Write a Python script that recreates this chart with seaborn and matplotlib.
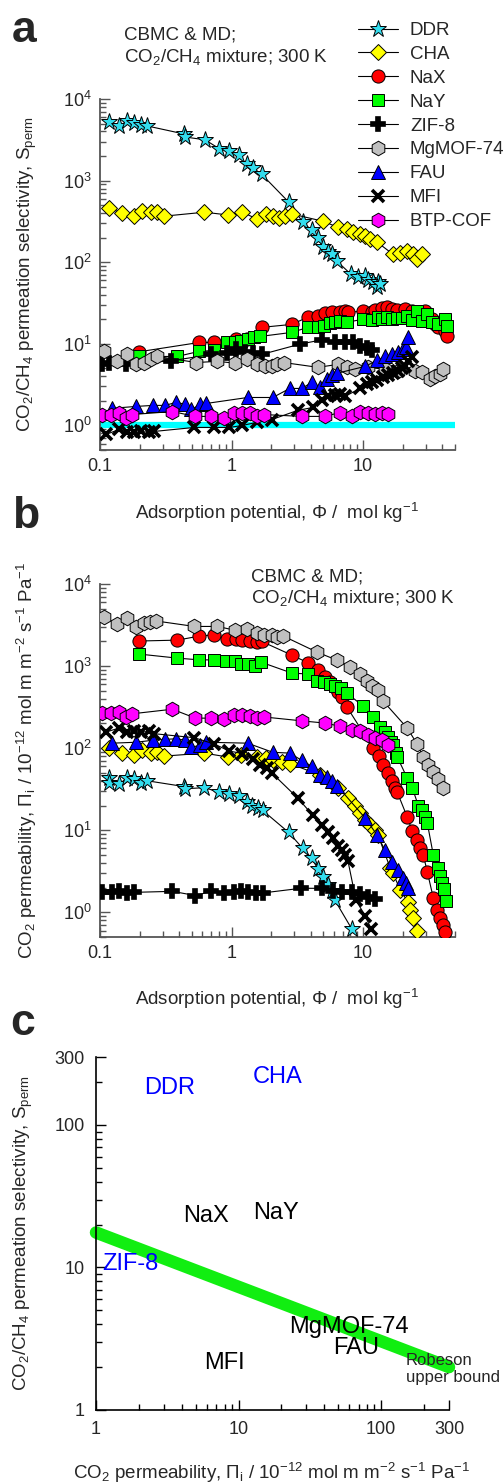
import numpy as np
import matplotlib
matplotlib.use("Agg")
import matplotlib.pyplot as plt
import seaborn as sns
from matplotlib.lines import Line2D
from matplotlib.ticker import LogLocator, FixedLocator, FuncFormatter, NullFormatter, LogFormatterSciNotation

# ---------------- data: panel a (selectivity vs adsorption potential) ----------------
DDR_a_x = [0.117, 0.140, 0.161, 0.182, 0.206, 0.229, 0.438, 0.445, 0.63, 0.81, 0.965, 1.13, 1.30, 1.45, 1.69,
           2.72, 3.48, 4.08, 4.54, 4.95, 5.40, 5.80, 6.33, 8.10, 9.16, 10.4, 10.9, 11.9, 13.0, 12.8, 13.5]
DDR_a_y = [5240, 4670, 5370, 5070, 4800, 4670, 3720, 3420, 3160, 2450, 2300, 2040, 1590, 1420, 1200,
           546, 310, 246, 196, 153, 132, 125, 103, 71, 65, 67, 61, 57, 57, 49, 54]
CHA_a_x = [0.117, 0.147, 0.182, 0.209, 0.245, 0.272, 0.308, 0.622, 0.932, 1.21, 1.55, 1.82, 2.06, 2.29, 2.54,
           2.87, 4.95, 6.44, 7.55, 8.39, 9.48, 10.4, 11.3, 12.8, 16.9, 19.2, 21.7, 24.1, 25.8, 28.2]
CHA_a_y = [459, 400, 367, 430, 410, 415, 367, 410, 380, 410, 340, 390, 370, 345, 370,
           390, 318, 268, 254, 233, 220, 210, 192, 176, 125, 128, 137, 125, 110, 125]
NaX_a_x = [0.199, 0.570, 0.741, 1.09, 1.30, 1.69, 2.87, 3.80, 4.54, 5.13, 5.80, 6.67, 7.29, 7.68, 10.0, 11.7,
           12.35, 13.97, 15.25, 16.65, 18.2, 20.9, 23.7, 29.7, 33.6, 35.5, 37.4, 42.3, 43.8]
NaX_a_y = [8.0, 10.4, 10.4, 11.3, 11.5, 15.9, 17.3, 21.2, 21.8, 23.7, 24.4, 24.4, 25.1, 24.4, 25.1, 24.4,
           25.8, 27.2, 28.0, 26.5, 25.8, 26.5, 25.1, 25.1, 20.0, 17.3, 15.9, 14.3, 12.4]
NaY_a_x = [0.199, 0.387, 0.570, 0.741, 0.916, 1.054, 1.19, 1.325, 1.47, 1.64, 2.87, 3.80, 4.54, 5.04, 5.60,
           6.11, 6.67, 7.55, 10.0, 11.7, 13.0, 13.97, 15.25, 16.65, 18.2, 19.85, 21.7, 23.7, 25.8, 28.2,
           30.8, 33.6, 37.4, 42.3, 43.8]
NaY_a_y = [7.0, 7.0, 8.1, 8.3, 10.4, 10.4, 10.7, 11.3, 12.0, 12.3, 13.8, 15.9, 15.9, 16.4, 17.9,
           18.4, 18.9, 18.4, 20.0, 19.4, 21.2, 20.0, 21.2, 20.0, 20.6, 20.6, 21.8, 19.4, 25.1, 18.9,
           23.0, 18.4, 17.3, 20.0, 16.4]
ZIF_a_x = [0.104, 0.117, 0.158, 0.348, 0.703, 0.916, 1.09, 1.256, 1.446, 1.69, 3.30, 4.87, 6.11, 7.29, 8.39,
           9.48, 10.7, 11.7]
ZIF_a_y = [5.6, 5.9, 5.6, 6.2, 7.4, 7.7, 8.6, 8.0, 7.7, 7.4, 9.9, 11.2, 10.4, 10.4, 10.4, 9.5, 9.0, 8.5]
MOF_a_x = [0.107, 0.135, 0.161, 0.188, 0.217, 0.245, 0.272, 0.541, 0.782, 1.054, 1.30, 1.55, 1.79, 2.02, 2.21,
           2.49, 4.54, 6.44, 7.55, 8.69, 10.9, 14.7, 18.5, 24.95, 28.2, 32.5, 35.5, 38.7, 40.8]
MOF_a_y = [8.1, 6.1, 7.6, 5.6, 5.9, 6.45, 7.0, 5.9, 6.1, 5.8, 6.45, 5.6, 5.3, 5.3, 5.6,
           5.9, 5.15, 5.6, 5.15, 4.87, 5.15, 4.87, 4.6, 4.6, 4.47, 3.67, 4.0, 4.22, 4.87]
FAU_a_x = [0.124, 0.188, 0.254, 0.313, 0.380, 0.446, 0.495, 0.580, 0.644, 1.325, 2.06, 2.77, 3.42, 4.08, 4.70,
           5.31, 5.80, 6.33, 10.4, 12.8, 14.7, 16.65, 18.5, 20.2, 21.3, 22.1]
FAU_a_y = [1.62, 1.71, 1.76, 1.76, 1.92, 1.81, 1.57, 1.81, 1.86, 2.2, 2.2, 2.84, 2.84, 3.37, 2.92,
           3.67, 4.1, 4.35, 5.3, 6.27, 7.0, 7.4, 7.9, 8.6, 9.05, 12.0]
MFI_a_x = [0.111, 0.140, 0.161, 0.182, 0.206, 0.237, 0.258, 0.522, 0.741, 0.965, 1.21, 1.55, 2.02, 3.19, 4.15,
           4.87, 5.40, 6.11, 6.67, 7.29, 9.48, 10.7, 11.7, 12.8, 14.2, 15.5, 16.9, 18.5, 19.85, 20.9, 22.1, 23.7]
MFI_a_y = [0.775, 0.893, 0.82, 0.82, 0.844, 0.82, 0.844, 0.945, 0.945, 0.945, 1.0, 1.09, 1.18, 1.53, 1.66,
           2.03, 2.27, 2.33, 2.4, 2.27, 2.84, 3.18, 3.37, 3.57, 3.88, 4.1, 4.35, 4.6, 5.0, 5.3, 6.1, 6.8]
BTP_a_x = [0.104, 0.121, 0.140, 0.158, 0.175, 0.355, 0.531, 0.703, 0.884, 1.036, 1.21, 1.37, 1.55, 1.755,
           3.42, 5.13, 6.67, 8.24, 9.48, 10.9, 12.35, 13.97, 15.5]
BTP_a_y = [1.33, 1.36, 1.44, 1.25, 1.36, 1.48, 1.29, 1.29, 1.25, 1.44, 1.44, 1.44, 1.29, 1.36,
           1.29, 1.29, 1.44, 1.29, 1.48, 1.44, 1.40, 1.44, 1.40]
UNITY_x = [0.1, 50]
UNITY_y = [1.0, 1.0]

# ---------------- data: panel b (CO2 permeability vs adsorption potential) ----------------
DDR_b_x = [0.117, 0.117, 0.140, 0.161, 0.182, 0.206, 0.229, 0.438, 0.445, 0.622, 0.81, 0.965, 1.13, 1.30,
           1.42, 1.58, 1.72, 2.72, 3.48, 4.08, 4.54, 4.95, 5.40, 5.80, 6.11, 8.24]
DDR_b_y = [43, 38, 37, 43, 42, 38, 40, 34, 32, 33, 29, 28, 26, 22,
           20, 18.5, 17.5, 9.4, 6.0, 4.55, 3.35, 2.67, 2.13, 1.8, 1.4, 0.62]
CHA_b_x = [0.117, 0.147, 0.182, 0.209, 0.245, 0.272, 0.308, 0.622, 0.932, 1.19, 1.55, 1.82, 2.06, 2.41, 2.77,
           4.70, 6.44, 7.68, 8.69, 9.48, 10.4, 11.3, 12.35, 13.0, 16.1, 16.9, 19.2, 22.1, 22.9, 24.1, 25.8]
CHA_b_y = [100, 88, 82, 95, 87, 89, 80, 87, 78, 82, 78, 75, 72, 67, 65,
           47, 33, 24.6, 20, 16, 13.3, 11.5, 10, 8.7, 3.45, 3.0, 1.85, 1.32, 1.06, 0.85, 0.6]
NaX_b_x = [0.199, 0.387, 0.570, 0.741, 0.916, 1.09, 1.21, 1.37, 1.55, 1.69, 2.87, 3.80, 4.54, 5.13, 5.60,
           6.11, 6.44, 6.91, 7.55, 11.9, 13.3, 14.2, 15.5, 16.65, 17.55, 18.2, 21.7, 23.7, 25.8, 27.2,
           28.7, 30.8, 34.2, 36.7, 38.7, 40.8, 42.3]
NaX_b_y = [2020, 2070, 2320, 2400, 2150, 2150, 2100, 2000, 1950, 2000, 1360, 1100, 890, 730, 640,
           560, 480, 420, 316, 100, 80, 63, 50, 40, 33, 29, 14.4, 9.7, 7.5, 6.0,
           5.0, 3.1, 1.5, 1.06, 0.85, 0.7, 0.57]
NaY_b_x = [0.199, 0.387, 0.570, 0.741, 0.900, 1.054, 1.19, 1.325, 1.50, 1.665, 2.87, 3.80, 4.46, 5.04, 5.60,
           6.11, 6.79, 7.55, 10.0, 11.9, 13.5, 14.7, 15.5, 16.4, 16.9, 17.9, 18.2, 21.7, 23.7, 26.3,
           28.2, 29.7, 30.8, 34.2, 37.4, 38.7, 40.1, 41.5, 43.0]
NaY_b_y = [1400, 1250, 1190, 1190, 1160, 1140, 1070, 1070, 1000, 1120, 822, 800, 650, 640, 600,
           570, 540, 468, 325, 238, 180, 157, 136, 118, 108, 87, 78, 43, 32.6, 20,
           17.5, 14.4, 12.2, 5.0, 3.5, 2.8, 2.26, 1.9, 1.36]
ZIF_b_x = [0.104, 0.124, 0.140, 0.161, 0.182, 0.355, 0.531, 0.703, 0.869, 1.036, 1.19, 1.325, 1.525, 1.724,
           3.36, 4.87, 5.90, 6.91, 8.24, 9.48, 10.9, 12.35]
ZIF_b_y = [1.75, 1.78, 1.8, 1.72, 1.75, 1.8, 1.6, 1.8, 1.7, 1.75, 1.8, 1.75, 1.7, 1.72,
           1.96, 1.96, 1.8, 1.75, 1.75, 1.65, 1.55, 1.44]
MOF_b_x = [0.107, 0.135, 0.161, 0.188, 0.217, 0.241, 0.268, 0.522, 0.782, 1.054, 1.30, 1.55, 1.755, 2.02, 2.21,
           2.45, 4.46, 6.33, 7.96, 9.48, 10.7, 11.7, 13.0, 14.2, 21.7, 25.8, 28.7, 31.35, 34.2, 37.4, 40.8]
MOF_b_y = [3970, 3250, 3860, 2960, 3360, 3450, 3540, 3040, 3040, 2740, 2820, 2540, 2410, 2410, 2280,
           2340, 1480, 1180, 980, 800, 650, 570, 510, 375, 175, 112, 78, 62, 51, 42, 32.6]
FAU_b_x = FAU_a_x
FAU_b_y = [115, 118, 125, 128, 130, 125, 103, 108, 118, 115, 89, 87, 71, 60, 47,
           44, 40, 35, 14, 8.7, 5.7, 4.07, 3.25, 2.6, 2.26, 2.0]
MFI_b_x = [0.111, 0.140, 0.161, 0.182, 0.206, 0.237, 0.258, 0.522, 0.741, 0.965, 1.21, 1.446, 1.636, 1.85,
           2.02, 3.19, 4.15, 4.87, 5.40, 5.90, 6.44, 6.91, 7.29, 7.68, 8.84, 10.4, 11.5]
MFI_b_y = [157, 176, 157, 160, 157, 160, 150, 134, 112, 92, 86, 73, 63, 58,
           50, 24.6, 15.2, 11.5, 9.4, 8.0, 6.5, 5.8, 5.0, 4.2, 1.4, 0.9, 0.63]
BTP_b_x = BTP_a_x
BTP_b_y = [267, 267, 275, 240, 262, 298, 232, 232, 225, 250, 250, 245, 232, 240,
           215, 202, 185, 166, 161, 144, 132, 125, 110]

# ---------------- data: panel c ----------------
C_LABELS = ["DDR", "CHA", "NaX", "NaY", "ZIF-8", "MgMOF-74", "FAU", "MFI"]
C_PERM = [3.3, 18.7, 5.9, 18.4, 1.73, 60, 67, 8.0]
C_SEL = [182, 217, 23, 24, 10.5, 3.85, 2.73, 2.14]
C_COLORS = ["#0000ff", "#0000ff", "black", "black", "#0000ff", "black", "black", "black"]
ROBESON_x = [1, 300]
ROBESON_y = [17.6, 2.0]

NAMES = ["DDR", "CHA", "NaX", "NaY", "ZIF-8", "MgMOF-74", "FAU", "MFI", "BTP-COF"]
PANEL_A = [(DDR_a_x, DDR_a_y), (CHA_a_x, CHA_a_y), (NaX_a_x, NaX_a_y), (NaY_a_x, NaY_a_y),
           (ZIF_a_x, ZIF_a_y), (MOF_a_x, MOF_a_y), (FAU_a_x, FAU_a_y), (MFI_a_x, MFI_a_y), (BTP_a_x, BTP_a_y)]
PANEL_B = [(DDR_b_x, DDR_b_y), (CHA_b_x, CHA_b_y), (NaX_b_x, NaX_b_y), (NaY_b_x, NaY_b_y),
           (ZIF_b_x, ZIF_b_y), (MOF_b_x, MOF_b_y), (FAU_b_x, FAU_b_y), (MFI_b_x, MFI_b_y), (BTP_b_x, BTP_b_y)]

# ---------------- styles ----------------
STYLE = {
    "DDR": dict(marker="*", ms=12.5, mfc="#33ddee", mew=0.7),
    "CHA": dict(marker="D", ms=8.5, mfc="#ffff00", mew=0.7),
    "NaX": dict(marker="o", ms=9.5, mfc="#ff0000", mew=0.7),
    "NaY": dict(marker="s", ms=9.0, mfc="#00ff00", mew=0.7),
    "ZIF-8": dict(marker="P", ms=10.0, mfc="black", mew=1.2),
    "MgMOF-74": dict(marker="h", ms=10.5, mfc="#c0c0c0", mew=0.7),
    "FAU": dict(marker="^", ms=10.0, mfc="#0000ff", mew=0.7),
    "MFI": dict(marker="x", ms=9.0, mfc="black", mew=2.6),
    "BTP-COF": dict(marker="h", ms=10.5, mfc="#ff00ff", mew=0.7),
}

sns.set_style("ticks")
plt.rcParams["font.family"] = ["Liberation Sans", "DejaVu Sans"]
plt.rcParams["mathtext.fontset"] = "custom"
plt.rcParams["mathtext.rm"] = "Liberation Sans"
plt.rcParams["mathtext.it"] = "Liberation Sans:italic"
plt.rcParams["mathtext.bf"] = "Liberation Sans:bold"
plt.rcParams["axes.unicode_minus"] = True

W, H = 503, 1484
fig = plt.figure(figsize=(W / 100, H / 100), dpi=100)


def ax_rect(l, r, t, b):
    return [l / W, 1 - b / H, (r - l) / W, (b - t) / H]


AXCOL = "#555555"
FS_TICK = 13
FS_LAB = 13.5


def draw_series(ax, x, y, name):
    st = STYLE[name]
    sns.lineplot(x=x, y=y, ax=ax, color="black", linewidth=0.8, marker=st["marker"],
                 markersize=st["ms"], markerfacecolor=st["mfc"], markeredgecolor="black",
                 markeredgewidth=st["mew"], estimator=None, sort=False, legend=False, zorder=3)


def style_phi_axis(ax):
    ax.set_xscale("log")
    ax.set_yscale("log")
    ax.set_xlim(0.1, 50)
    ax.set_ylim(0.5, 1e4)
    ax.xaxis.set_major_locator(FixedLocator([0.1, 1, 10]))
    ax.xaxis.set_major_formatter(FuncFormatter(lambda v, p: f"{v:g}"))
    ax.xaxis.set_minor_locator(LogLocator(base=10, subs=np.arange(2, 10), numticks=20))
    ax.xaxis.set_minor_formatter(NullFormatter())
    ax.yaxis.set_major_locator(FixedLocator([1, 10, 100, 1000, 10000]))
    ax.yaxis.set_major_formatter(LogFormatterSciNotation())
    ax.yaxis.set_minor_locator(LogLocator(base=10, subs=np.arange(2, 10), numticks=20))
    ax.yaxis.set_minor_formatter(NullFormatter())
    for s in ["top", "right"]:
        ax.spines[s].set_visible(False)
    for s in ["left", "bottom"]:
        ax.spines[s].set_color(AXCOL)
        ax.spines[s].set_linewidth(1.3)
    ax.tick_params(which="both", direction="in", color=AXCOL, labelsize=FS_TICK, width=1.0)
    ax.tick_params(which="major", length=7)
    ax.tick_params(which="minor", length=4)
    ax.tick_params(axis="x", pad=6)
    ax.tick_params(axis="y", pad=6)
    ax.set_xlabel("")
    ax.set_ylabel("")


# ---------------- panel a ----------------
axa = fig.add_axes(ax_rect(100, 455, 99, 450))
sns.lineplot(x=UNITY_x, y=UNITY_y, ax=axa, color="#00ffff", linewidth=4.5, zorder=1,
             estimator=None, sort=False, legend=False, solid_capstyle="round")
for name, (x, y) in zip(NAMES, PANEL_A):
    draw_series(axa, x, y, name)
style_phi_axis(axa)

# ---------------- panel b ----------------
axb = fig.add_axes(ax_rect(100, 455, 584, 937))
for name, (x, y) in zip(NAMES, PANEL_B):
    draw_series(axb, x, y, name)
style_phi_axis(axb)

# ---------------- panel c ----------------
axc = fig.add_axes(ax_rect(96, 449, 1057, 1410))
sns.lineplot(x=ROBESON_x, y=ROBESON_y, ax=axc, color="#11ee11", linewidth=9, estimator=None,
             sort=False, legend=False, solid_capstyle="round", clip_on=False, zorder=2)
axc.set_xscale("log")
axc.set_yscale("log")
axc.set_xlim(1, 300)
axc.set_ylim(1, 300)
for ax_ in (axc.xaxis, axc.yaxis):
    ax_.set_major_locator(FixedLocator([1, 10, 100, 300]))
    ax_.set_major_formatter(FuncFormatter(lambda v, p: f"{v:g}"))
    ax_.set_minor_locator(LogLocator(base=10, subs=np.arange(2, 10), numticks=20))
    ax_.set_minor_formatter(NullFormatter())
for s in ["top", "right"]:
    axc.spines[s].set_visible(False)
for s in ["left", "bottom"]:
    axc.spines[s].set_color("black")
    axc.spines[s].set_linewidth(1.2)
axc.tick_params(which="both", direction="in", color="black", labelsize=FS_TICK, width=1.0)
axc.tick_params(which="major", length=7)
axc.tick_params(which="minor", length=4)
axc.tick_params(axis="x", pad=8)
axc.tick_params(axis="y", pad=8)
axc.set_xlabel("")
axc.set_ylabel("")
for lab, px, sy, col in zip(C_LABELS, C_PERM, C_SEL, C_COLORS):
    axc.text(px, sy, lab, color=col, fontsize=17, ha="center", va="center", zorder=5)
axc.text(150, 1.94, "Robeson\nupper bound", fontsize=12, ha="left", va="center",
         linespacing=1.1, zorder=5)

# ---------------- legend ----------------
handles = [Line2D([0], [0], color="black", lw=0.8, marker=STYLE[n]["marker"], ms=STYLE[n]["ms"],
                  mfc=STYLE[n]["mfc"], mec="black", mew=STYLE[n]["mew"]) for n in NAMES]
fig.legend(handles, NAMES, loc="upper left", bbox_to_anchor=(358 / W, 1 - 22 / H), frameon=False,
           fontsize=FS_LAB, handlelength=2.13, handletextpad=0.64, labelspacing=0.36,
           borderpad=0, borderaxespad=0)

# ---------------- texts ----------------
def ftext(x, y, s, **kw):
    fig.text(x / W, 1 - y / H, s, **kw)


ftext(12, 42, "a", fontsize=32, fontweight="bold", va="baseline", ha="left")
ftext(12, 528, "b", fontsize=32, fontweight="bold", va="baseline", ha="left")
ftext(10, 1035, "c", fontsize=32, fontweight="bold", va="baseline", ha="left")

ftext(124, 40, "CBMC & MD;", fontsize=FS_LAB, va="baseline", ha="left")
ftext(124, 62, "CO$_2$/CH$_4$ mixture; 300 K", fontsize=FS_LAB, va="baseline", ha="left")
ftext(251, 582, "CBMC & MD;", fontsize=FS_LAB, va="baseline", ha="left")
ftext(251, 603, "CO$_2$/CH$_4$ mixture; 300 K", fontsize=FS_LAB, va="baseline", ha="left")

ftext(277, 513, "Adsorption potential, Φ /  mol kg$^{-1}$", fontsize=FS_LAB, ha="center", va="center")
ftext(277, 999, "Adsorption potential, Φ /  mol kg$^{-1}$", fontsize=FS_LAB, ha="center", va="center")
ftext(272, 1473, "CO$_2$ permeability, $\\Pi_{\\mathrm{i}}$ / 10$^{-12}$ mol m m$^{-2}$ s$^{-1}$ Pa$^{-1}$",
      fontsize=FS_LAB, ha="center", va="center")

ftext(27, 274, "CO$_2$/CH$_4$ permeation selectivity, S$_{\\mathrm{perm}}$", fontsize=FS_LAB,
      rotation=90, ha="center", va="center")
ftext(27, 760, "CO$_2$ permeability, $\\Pi_{\\mathrm{i}}$ / 10$^{-12}$ mol m m$^{-2}$ s$^{-1}$ Pa$^{-1}$",
      fontsize=FS_LAB, rotation=90, ha="center", va="center")
ftext(23, 1233, "CO$_2$/CH$_4$ permeation selectivity, S$_{\\mathrm{perm}}$", fontsize=FS_LAB,
      rotation=90, ha="center", va="center")

fig.savefig("out.png", dpi=100)
